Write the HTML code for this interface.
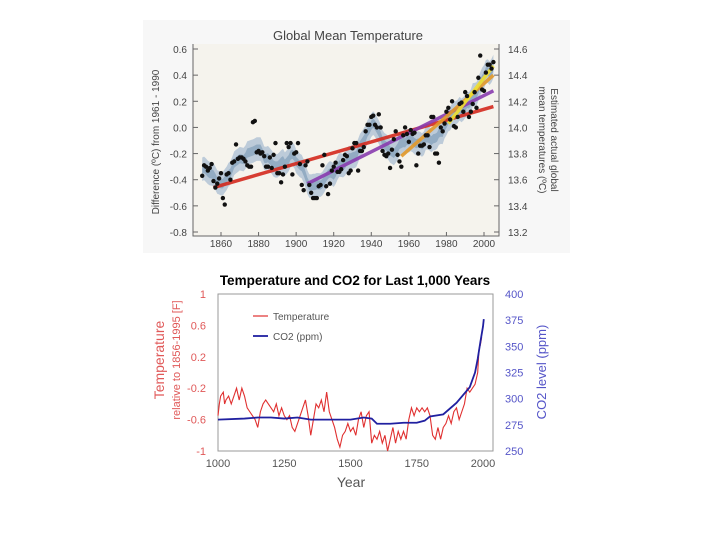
<!DOCTYPE html>
<html><head><meta charset="utf-8"><style>
body{margin:0;background:#fff;width:720px;height:540px;overflow:hidden;font-family:"Liberation Sans",sans-serif}
svg{position:absolute;left:0;top:0}
</style></head><body>
<svg id="chart" width="720" height="540">
<rect x="143" y="20" width="427" height="233" fill="#f7f7f7"/>
<rect x="193" y="44" width="306" height="192" fill="#f5f3ed"/>
<g id="topG"></g>
<g id="botG"></g>
<text x="348" y="40" text-anchor="middle" font-size="13" fill="#444">Global Mean Temperature</text>
<text transform="translate(159,142) rotate(-90)" text-anchor="middle" font-size="10" fill="#444">Difference (ºC) from 1961 - 1990</text>
<text transform="translate(551,140) rotate(90)" text-anchor="middle" font-size="10" fill="#444"><tspan x="0" dy="0">Estimated actual global</tspan><tspan x="0" dy="12">mean temperatures (ºC)</tspan></text>
<text x="355" y="285" text-anchor="middle" font-size="13.5" font-weight="bold" fill="#000">Temperature and CO2 for Last 1,000 Years</text>
<text transform="translate(164,360) rotate(-90)" text-anchor="middle" font-size="14" fill="#e05858">Temperature</text>
<text transform="translate(180,360) rotate(-90)" text-anchor="middle" font-size="11" fill="#e05858">relative to 1856-1995 [F]</text>
<text transform="translate(546,372) rotate(-90)" text-anchor="middle" font-size="13" fill="#5555c8">CO2 level (ppm)</text>
<text x="351" y="487" text-anchor="middle" font-size="14" fill="#555">Year</text>
<line x1="253" y1="316" x2="268" y2="316" stroke="#e03030" stroke-width="1.2"/>
<text x="273" y="320" font-size="10" fill="#555">Temperature</text>
<line x1="253" y1="336" x2="268" y2="336" stroke="#2020a0" stroke-width="1.8"/>
<text x="273" y="340" font-size="10" fill="#555">CO2 (ppm)</text>
</svg>
<script>
const topYears=[1850,1851,1852,1853,1854,1855,1856,1857,1858,1859,1860,1861,1862,1863,1864,1865,1866,1867,1868,1869,1870,1871,1872,1873,1874,1875,1876,1877,1878,1879,1880,1881,1882,1883,1884,1885,1886,1887,1888,1889,1890,1891,1892,1893,1894,1895,1896,1897,1898,1899,1900,1901,1902,1903,1904,1905,1906,1907,1908,1909,1910,1911,1912,1913,1914,1915,1916,1917,1918,1919,1920,1921,1922,1923,1924,1925,1926,1927,1928,1929,1930,1931,1932,1933,1934,1935,1936,1937,1938,1939,1940,1941,1942,1943,1944,1945,1946,1947,1948,1949,1950,1951,1952,1953,1954,1955,1956,1957,1958,1959,1960,1961,1962,1963,1964,1965,1966,1967,1968,1969,1970,1971,1972,1973,1974,1975,1976,1977,1978,1979,1980,1981,1982,1983,1984,1985,1986,1987,1988,1989,1990,1991,1992,1993,1994,1995,1996,1997,1998,1999,2000,2001,2002,2003,2004,2005];
const topAnom=[-0.37,-0.29,-0.30,-0.33,-0.31,-0.28,-0.41,-0.46,-0.43,-0.39,-0.35,-0.54,-0.59,-0.36,-0.35,-0.40,-0.27,-0.26,-0.13,-0.24,-0.23,-0.23,-0.24,-0.26,-0.29,-0.30,-0.30,0.04,0.05,-0.19,-0.18,-0.20,-0.19,-0.22,-0.30,-0.30,-0.23,-0.31,-0.21,-0.12,-0.35,-0.35,-0.42,-0.36,-0.30,-0.12,-0.15,-0.12,-0.36,-0.20,-0.19,-0.12,-0.28,-0.44,-0.48,-0.29,-0.26,-0.44,-0.50,-0.54,-0.54,-0.54,-0.45,-0.44,-0.29,-0.21,-0.45,-0.51,-0.43,-0.33,-0.30,-0.27,-0.34,-0.34,-0.32,-0.25,-0.21,-0.22,-0.35,-0.33,-0.16,-0.12,-0.12,-0.33,-0.18,-0.18,-0.15,-0.03,0.02,0.02,0.08,0.09,0.02,0.00,0.10,0.00,-0.18,-0.21,-0.22,-0.20,-0.31,-0.17,-0.09,-0.03,-0.21,-0.26,-0.30,-0.06,0.00,-0.05,-0.11,-0.02,-0.05,-0.04,-0.29,-0.20,-0.14,-0.14,-0.13,-0.06,-0.06,-0.15,0.08,0.08,-0.20,-0.20,-0.27,0.00,-0.03,0.03,0.12,0.15,0.06,0.20,0.01,0.00,0.08,0.18,0.19,0.12,0.27,0.24,0.08,0.12,0.18,0.27,0.15,0.38,0.55,0.29,0.28,0.42,0.48,0.48,0.45,0.50];
const trendStart=[1856,1906,1956,1981];
const trendEnd=[2005,2005,2005,2005];
const trendStartVal=[-0.46,-0.43,-0.22,0.03];
const trendEndVal=[0.16,0.28,0.40,0.47];
const trendColors=["#d42a1e","#8a3db0","#e39a2a","#f0e030"];
const topLeftTicks=[0.6,0.4,0.2,0.0,-0.2,-0.4,-0.6,-0.8];
const topLeftLabels=["0.6","0.4","0.2","0.0","-0.2","-0.4","-0.6","-0.8"];
const topRightTicks=[14.6,14.4,14.2,14.0,13.8,13.6,13.4,13.2];
const topXTicks=[1860,1880,1900,1920,1940,1960,1980,2000];
const tempYears=[1000,1005,1010,1020,1025,1030,1040,1050,1060,1070,1080,1090,1100,1110,1120,1130,1140,1150,1160,1170,1180,1190,1200,1210,1220,1230,1240,1250,1260,1270,1280,1290,1300,1310,1320,1330,1340,1350,1360,1370,1380,1390,1400,1410,1420,1430,1440,1450,1460,1470,1480,1490,1500,1510,1520,1530,1540,1550,1560,1570,1580,1590,1600,1610,1620,1630,1640,1650,1660,1670,1680,1690,1700,1710,1720,1730,1740,1750,1760,1770,1780,1790,1800,1810,1820,1830,1840,1850,1860,1870,1880,1890,1900,1910,1920,1930,1940,1950,1960,1970,1980,1985,1990,1995];
const tempVals=[-0.55,-0.4,-0.3,-0.25,-0.4,-0.35,-0.3,-0.4,-0.3,-0.2,-0.35,-0.2,-0.3,-0.45,-0.5,-0.55,-0.6,-0.7,-0.5,-0.4,-0.35,-0.4,-0.45,-0.5,-0.4,-0.55,-0.45,-0.55,-0.6,-0.55,-0.7,-0.75,-0.65,-0.55,-0.45,-0.35,-0.55,-0.8,-0.6,-0.4,-0.45,-0.35,-0.5,-0.25,-0.5,-0.6,-0.7,-0.85,-0.95,-0.8,-0.75,-0.65,-0.75,-0.7,-0.8,-0.6,-0.5,-0.7,-0.55,-0.5,-0.9,-0.8,-0.85,-0.75,-0.9,-0.8,-1.0,-0.85,-0.7,-0.9,-0.75,-0.85,-0.75,-0.85,-0.6,-0.45,-0.55,-0.45,-0.5,-0.45,-0.5,-0.45,-0.55,-0.8,-0.85,-0.7,-0.85,-0.7,-0.65,-0.55,-0.65,-0.5,-0.45,-0.6,-0.5,-0.4,-0.2,-0.25,-0.2,-0.15,0.0,0.3,0.35,0.45];
const co2Years=[1000,1100,1150,1200,1250,1300,1350,1400,1450,1500,1550,1580,1600,1650,1700,1750,1780,1800,1850,1900,1950,1970,1980,1990,2000,2003];
const co2Vals=[280,281,282,282,281,282,280,280,280,280,282,281,276,276,277,277,279,283,285,296,311,325,338,354,369,376];
const botLeftTicks=[1,0.6,0.2,-0.2,-0.6,-1];
const botRightTicks=[400,375,350,325,300,275,250];
const botXTicks=[1000,1250,1500,1750,2000];

const NS="http://www.w3.org/2000/svg";
function mk(parent,tag,attrs){const e=document.createElementNS(NS,tag);for(const k in attrs)e.setAttribute(k,attrs[k]);parent.appendChild(e);return e;}
const tx=y=>221+(y-1860)*(484-221)/140;
const ty=v=>49+(0.6-v)*(232-49)/1.4;
const bx=y=>218+(y-1000)*(483-218)/1000;
const by=v=>294+(1-v)*(451-294)/2;
const bc=c=>451-(c-250)*(451-294)/150;

const topGroup=document.getElementById('topG');
const smooth=topAnom.map((v,i)=>{let s=0,n=0;for(let j=i-4;j<=i+4;j++){if(j>=0&&j<topAnom.length){s+=topAnom[j];n++;}}return s/n;});
function band(w){let up=topYears.map((y,i)=>tx(y)+','+ty(smooth[i]+w)).join(' ');let dn=topYears.slice().reverse().map((y,k)=>{const i=topYears.length-1-k;return tx(y)+','+ty(smooth[i]-w);}).join(' ');return up+' '+dn;}
const bo=mk(topGroup,'polygon',{points:band(0.09),fill:'#b7c7d6',opacity:'0.9'});


const bi=mk(topGroup,'polygon',{points:band(0.035),fill:'#8ea8c0',opacity:'0.9'});


trendStart.forEach((s,i)=>{
  const l=mk(topGroup,'line',{x1:tx(s),y1:ty(trendStartVal[i]),x2:tx(trendEnd[i]),y2:ty(trendEndVal[i]),stroke:trendColors[i],'stroke-width':3.5,opacity:'0.9'});
  
  
});
topYears.forEach((y,i)=>{
  const c=mk(topGroup,'circle',{cx:tx(y),cy:ty(topAnom[i]),r:2.2,fill:'#111'});
  
  
});
const ax=mk(topGroup,'path',{d:'M193,44 V236 H499 V44',fill:'none',stroke:'#666','stroke-width':1});


topLeftTicks.forEach((v,i)=>{
  mk(topGroup,'line',{x1:193,y1:ty(v),x2:198,y2:ty(v),stroke:'#666'});
  const t=mk(topGroup,'text',{x:187,y:ty(v)+4,'text-anchor':'end','font-size':10,fill:'#444'});t.textContent=topLeftLabels[i];
  
  
});
topRightTicks.forEach((v,i)=>{
  const yy=ty(topLeftTicks[i]);
  mk(topGroup,'line',{x1:494,y1:yy,x2:499,y2:yy,stroke:'#666'});
  const t=mk(topGroup,'text',{x:508,y:yy+4,'font-size':10,fill:'#444'});t.textContent=v.toFixed(1);
  
  
});
topXTicks.forEach(y=>{
  mk(topGroup,'line',{x1:tx(y),y1:236,x2:tx(y),y2:232,stroke:'#666'});
  const t=mk(topGroup,'text',{x:tx(y),y:247,'text-anchor':'middle','font-size':10,fill:'#444'});t.textContent=y;
  
  
});

const botGroup=document.getElementById('botG');
const fr=mk(botGroup,'rect',{x:218,y:294,width:275,height:157,fill:'none',stroke:'#999','stroke-width':1});


const tl=mk(botGroup,'polyline',{points:tempYears.map((y,i)=>bx(y)+','+by(tempVals[i])).join(' '),fill:'none',stroke:'#e03030','stroke-width':1.1});


const cl=mk(botGroup,'polyline',{points:co2Years.map((y,i)=>bx(y)+','+bc(co2Vals[i])).join(' '),fill:'none',stroke:'#2020a0','stroke-width':1.8});


botLeftTicks.forEach(v=>{
  const t=mk(botGroup,'text',{x:206,y:by(v)+4,'text-anchor':'end','font-size':11,fill:'#e05858'});t.textContent=String(v);
  
  
});
botRightTicks.forEach(v=>{
  const t=mk(botGroup,'text',{x:505,y:bc(v)+4,'font-size':11,fill:'#5555c8'});t.textContent=v;
  
  
});
botXTicks.forEach(y=>{
  const t=mk(botGroup,'text',{x:bx(y),y:467,'text-anchor':'middle','font-size':11,fill:'#555'});t.textContent=y;
  
  
});
</script>
</body></html>
